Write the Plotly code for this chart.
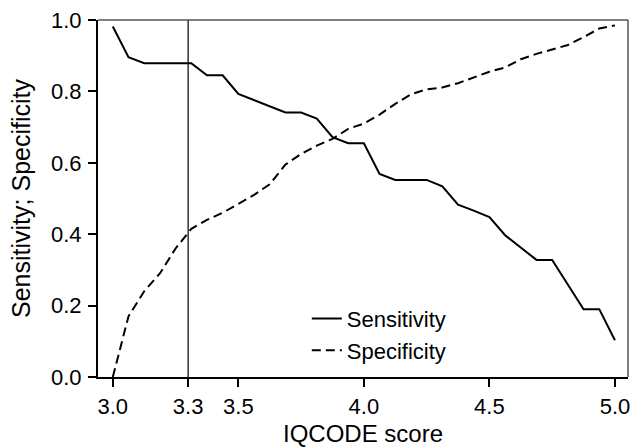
import plotly.graph_objects as go

# IQCODE score thresholds (steps of 1/16)
scores = [3.0, 3.0625, 3.125, 3.1875, 3.25, 3.3125, 3.375, 3.4375, 3.5, 3.5625,
          3.625, 3.6875, 3.75, 3.8125, 3.875, 3.9375, 4.0, 4.0625, 4.125, 4.1875,
          4.25, 4.3125, 4.375, 4.4375, 4.5, 4.5625, 4.625, 4.6875, 4.75, 4.8125,
          4.875, 4.9375, 5.0]

sensitivity = [0.982, 0.896, 0.879, 0.879, 0.879, 0.879, 0.845, 0.845, 0.793, 0.776,
               0.759, 0.741, 0.741, 0.724, 0.672, 0.655, 0.655, 0.569, 0.552, 0.552,
               0.552, 0.534, 0.483, 0.466, 0.448, 0.397, 0.362, 0.328, 0.328, 0.259,
               0.190, 0.190, 0.103]

specificity = [0.0, 0.17, 0.24, 0.29, 0.36, 0.415, 0.44, 0.46, 0.485, 0.51,
               0.54, 0.595, 0.625, 0.648, 0.667, 0.695, 0.71, 0.735, 0.765, 0.792,
               0.806, 0.811, 0.823, 0.838, 0.855, 0.867, 0.89, 0.905, 0.918, 0.93,
               0.952, 0.976, 0.985]

cutoff = 3.3

x_tick_vals = [3.0, 3.3, 3.5, 4.0, 4.5, 5.0]
x_tick_text = ["3.0", "3.3", "3.5", "4.0", "4.5", "5.0"]
y_tick_vals = [0.0, 0.2, 0.4, 0.6, 0.8, 1.0]
y_tick_text = ["0.0", "0.2", "0.4", "0.6", "0.8", "1.0"]

FONT = "Liberation Sans, Arial, sans-serif"

fig = go.Figure()
fig.add_trace(go.Scatter(x=scores, y=sensitivity, mode="lines", name="Sensitivity",
                         line=dict(color="black", width=2)))
fig.add_trace(go.Scatter(x=scores, y=specificity, mode="lines", name="Specificity",
                         line=dict(color="black", width=2, dash="9px,5px")))

fig.add_vline(x=cutoff, line=dict(color="black", width=1.2))

# top and right frame lines
fig.add_shape(type="line", xref="paper", yref="paper", x0=0, x1=1, y0=1, y1=1,
              line=dict(color="#555555", width=1.5))
fig.add_shape(type="line", xref="paper", yref="paper", x0=1, x1=1, y0=0, y1=1,
              line=dict(color="#555555", width=1.5))

fig.update_layout(
    width=633, height=447,
    margin=dict(l=98, r=5, t=20, b=70, autoexpand=False),
    plot_bgcolor="white", paper_bgcolor="white",
    font=dict(family=FONT, size=22, color="black"),
    showlegend=True,
    legend=dict(x=0.394, y=0.222, xanchor="left", yanchor="top",
                bgcolor="rgba(0,0,0,0)", font=dict(size=22), tracegroupgap=0),
)
fig.update_xaxes(
    range=[2.941, 5.052], tickmode="array", tickvals=x_tick_vals, ticktext=x_tick_text,
    ticks="outside", ticklen=8, tickwidth=1.5, tickcolor="black",
    showline=True, linecolor="black", linewidth=2, showgrid=False, zeroline=False,
    ticklabelstandoff=1, automargin=False,
    title=dict(text="IQCODE score", font=dict(size=24), standoff=11),
)
fig.update_yaxes(
    range=[0, 1], tickmode="array", tickvals=y_tick_vals, ticktext=y_tick_text,
    ticks="outside", ticklen=8, tickwidth=1.5, tickcolor="black",
    showline=True, linecolor="black", linewidth=2, showgrid=False, zeroline=False,
    ticklabelstandoff=2, automargin=False,
    title=dict(text="Sensitivity; Specificity", font=dict(size=25), standoff=13),
)

fig.write_html("out.html", config={"displayModeBar": False},
               post_script="document.body.style.margin='0';")
